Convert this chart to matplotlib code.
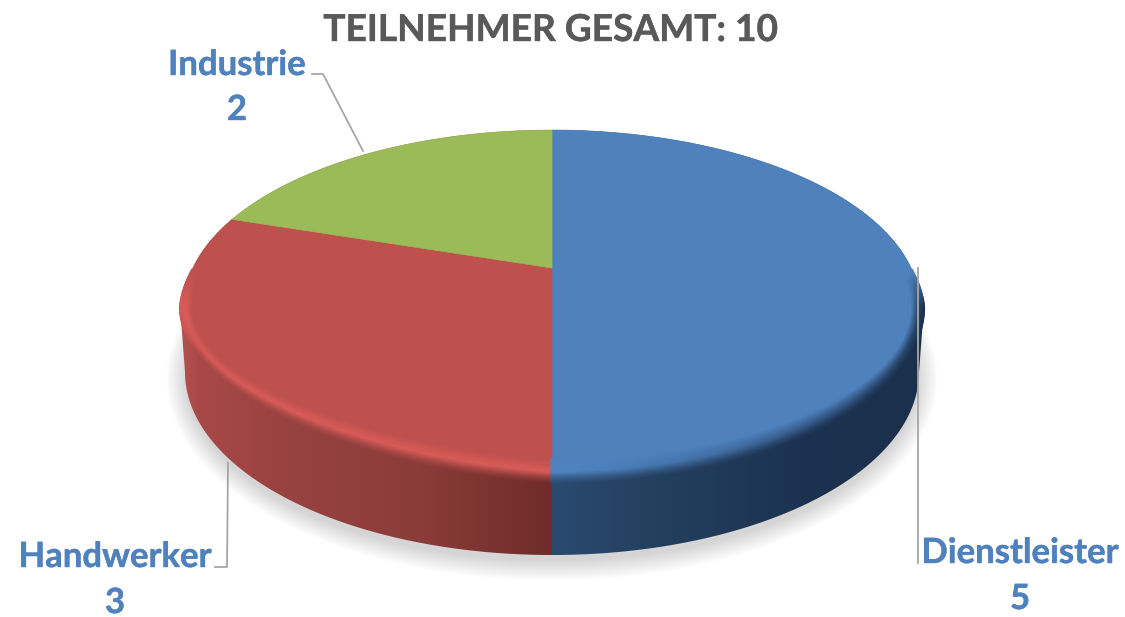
# import modules
import numpy as np
import matplotlib
matplotlib.use("Agg")
import matplotlib.pyplot as plt
import matplotlib.patheffects as pe
from matplotlib.collections import LineCollection
from matplotlib.colors import to_rgb
from matplotlib.patches import Ellipse, Polygon

plt.rcParams['font.family'] = ['Lato', 'DejaVu Sans']

# data
title = "TEILNEHMER GESAMT: 10"
categories = ["Dienstleister", "Handwerker", "Industrie"]
values = [5, 3, 2]
face_colors = ["#4f81bd", "#be504d", "#9bbb59"]

text_blue = "#4f81bd"
line_gray = "#a6a6a6"

# pie geometry in pixels, the tilted disc has its apex above the ellipse centre
apex_x, apex_y = 552, 268
persp = 0.218
scale_x, scale_y = 359, 168
mid_y, half_w, half_h = 306.5, 368, 176.5
low_y, low_w, low_h = 372, 367, 183


def lift(x, y):
    # the front left rim sits a bit higher than a true ellipse
    x, y = np.asarray(x, float), np.asarray(y, float)
    t = np.arctan2((y - mid_y) / half_h, (x - 552) / half_w)
    amount = np.where((x < 552) & (y > mid_y), 12 * np.abs(np.sin(2 * t)), 0)
    return y - amount


def project(frac, r=1.0):
    # frac runs clockwise from the top of the disc
    x = r * np.sin(2 * np.pi * frac)
    y = r * np.cos(2 * np.pi * frac)
    w = 1 + persp * y
    sx = apex_x + scale_x * x / w
    sy = apex_y - scale_y * y / w
    return sx, lift(sx, sy)


def mix(c1, c2, t):
    return np.array(c1) * (1 - t) + np.array(c2) * t


fig = plt.figure(figsize=(11.25, 6.17), dpi=100)
ax = fig.add_axes([0, 0, 1, 1])
ax.set_xlim(0, 1125)
ax.set_ylim(617, 0)
ax.axis('off')

# soft shadow below the disc
for i in range(14):
    ax.add_patch(Ellipse((552, 378), 2 * (366 + 1.5 * i), 2 * (183 + 1.5 * i),
                         fc='black', ec='none', alpha=0.011, zorder=1))

fractions = np.cumsum([0] + values) / sum(values)
seam_x = project(fractions[1])[0]

# side wall, colour only changes with x
red_x = [180, 200, 300, 420, seam_x]
red_wall = ["#b5524f", "#a84846", "#964240", "#8a3c39", "#6f2c2a"]
blue_x = [seam_x, 650, 800, 925]
blue_wall = ["#2a4a70", "#24405f", "#1c3250", "#1b304c"]


def wall_color(x):
    if x < seam_x:
        stops, cols = red_x, red_wall
    else:
        stops, cols = blue_x, blue_wall
    rgb = np.array([to_rgb(c) for c in cols])
    return np.array([np.interp(x, stops, rgb[:, k]) for k in range(3)])


def side_bulge(t):
    return np.clip((np.sin(t) + 0.2) / 0.2, 0, 1)


xs = np.arange(0, 1125)
wall_img = np.array([[wall_color(x) for x in xs]])
im = ax.imshow(wall_img, extent=(0, 1125, 617, 0), aspect='auto', zorder=2)

t_up = np.linspace(np.pi, 2 * np.pi, 240)
t_low = np.linspace(0, np.pi, 240)
outline = np.vstack([
    np.c_[552 + (half_w + 4 * side_bulge(t_up)) * np.cos(t_up), mid_y + half_h * np.sin(t_up)],
    np.c_[552 + low_w * np.cos(t_low), low_y + low_h * np.sin(t_low)],
])
clip = Polygon(outline, closed=True, transform=ax.transData)
im.set_clip_path(clip)

# top faces
for i in range(len(values)):
    f = np.linspace(fractions[i], fractions[i + 1], 200)
    px, py = project(f)
    pts = np.c_[np.r_[apex_x, px], np.r_[apex_y, py]]
    ax.add_patch(Polygon(pts, closed=True, fc=face_colors[i], ec=face_colors[i], lw=0.5, zorder=3))

# bevel around the front rim
blue_face = to_rgb(face_colors[0])
red_face = to_rgb(face_colors[1])
red_light = to_rgb("#d95c59")
t_ring = np.linspace(np.radians(-12), np.radians(192), 300)
for s in np.linspace(0, 1, 30):
    rx = 552 + (half_w + 4 * side_bulge(t_ring) * (1 - s) - 10 * s) * np.cos(t_ring)
    ry = lift(rx, mid_y + (half_h - 24 * s) * np.sin(t_ring))
    segs, cols = [], []
    for j in range(len(t_ring) - 1):
        x = (rx[j] + rx[j + 1]) / 2
        fade = side_bulge(t_ring[j])
        wall = wall_color(x)
        if x < seam_x:
            face, light = np.array(red_face), np.array(red_light)
            # outer edge stays light where the rim turns to the side
            wall = mix(light, wall, np.clip(np.sin(t_ring[j]) / 0.3, 0, 1))
        else:
            face = np.array(blue_face)
            light = mix(to_rgb("#4f85c4"), wall, min(1, 0.75 * (x - seam_x) / 368))
        if s < 0.5:
            c = mix(wall, light, (s / 0.5) ** 1.3)
        else:
            c = mix(light, face, (s - 0.5) / 0.5)
        segs.append([(rx[j], ry[j]), (rx[j + 1], ry[j + 1])])
        cols.append(mix(face, c, fade))
    ax.add_collection(LineCollection(segs, colors=cols, linewidths=1.6, zorder=4, capstyle='round'))

# leader lines
ax.plot([312, 323, 363], [74, 74, 151], color=line_gray, lw=1.3, zorder=5)
ax.plot([215, 227, 228], [567, 567, 463], color=line_gray, lw=1.3, zorder=5)
ax.plot([917.5, 917.5], [268, 563], color=line_gray, lw=1.3, zorder=5)

# texts, lato bold is a bit thin so thicken it slightly
ax.text(551, 41, title, color="#595959", fontsize=26.7, fontweight='bold', ha='center', va='baseline', zorder=6,
        path_effects=[pe.withStroke(linewidth=0.3, foreground="#595959")])
label_pos = [(1020, 563, 609), (115, 567, 613), (237, 75, 120)]
for name, val, (lx, y1, y2) in zip(categories, values, label_pos):
    ax.text(lx, y1, name, color=text_blue, fontsize=25, fontweight='bold', ha='center', va='baseline', zorder=6,
            path_effects=[pe.withStroke(linewidth=0.3, foreground=text_blue)])
    ax.text(lx, y2, str(val), color=text_blue, fontsize=25, fontweight='bold', ha='center', va='baseline', zorder=6,
            path_effects=[pe.withStroke(linewidth=0.3, foreground=text_blue)])

plt.savefig('out.png', dpi=100)
